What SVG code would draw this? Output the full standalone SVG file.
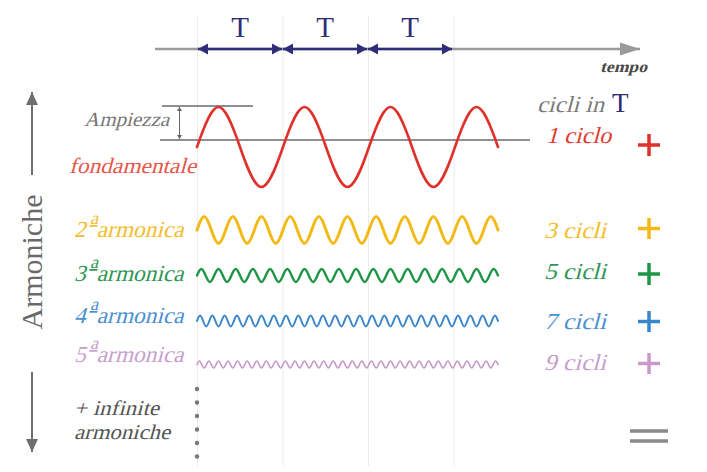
<svg xmlns="http://www.w3.org/2000/svg" width="707" height="472" viewBox="0 0 707 472">
<style>
.it{font-family:"Liberation Serif","Times New Roman",serif;font-style:normal}
.rm{font-family:"Liberation Serif","Times New Roman",serif}
.grid{stroke:#ececec;stroke-width:1}
.wave{fill:none;stroke-linecap:round;stroke-linejoin:round}
.plus{stroke-width:3.5;fill:none}
.sup{font-size:18px;text-decoration:underline}
</style>
<defs>
<marker id="hT" markerUnits="userSpaceOnUse" markerWidth="10" markerHeight="12" refX="10" refY="6" orient="auto-start-reverse"><path d="M0,0.5 L10,6 L0,11.5 z" fill="#2f2c78"/></marker>
<marker id="hAx" markerUnits="userSpaceOnUse" markerWidth="20" markerHeight="14" refX="20" refY="7" orient="auto"><path d="M0,0.5 L20,7 L0,13.5 z" fill="#9a9a9a"/></marker>
<marker id="hG" markerUnits="userSpaceOnUse" markerWidth="13" markerHeight="13" refX="13" refY="6.5" orient="auto"><path d="M0,0.5 L13,6.5 L0,12.5 z" fill="#6e6e6e"/></marker>
<marker id="hS" markerUnits="userSpaceOnUse" markerWidth="4" markerHeight="5" refX="4" refY="2.5" orient="auto-start-reverse"><path d="M0,0 L4,2.5 L0,5 z" fill="#666"/></marker>
</defs>
<rect width="707" height="472" fill="#fff"/>

<g id="grid">
<line class="grid" x1="197.5" y1="16" x2="197.5" y2="466"/>
<line class="grid" x1="283" y1="16" x2="283" y2="466"/>
<line class="grid" x1="368.5" y1="16" x2="368.5" y2="466"/>
<line class="grid" x1="454" y1="16" x2="454" y2="466"/>
</g>

<g id="connectors">
<line x1="155" y1="49" x2="640" y2="49" stroke="#9a9a9a" stroke-width="2.5" marker-end="url(#hAx)"/>
<line x1="198" y1="49" x2="282" y2="49" stroke="#2f2c78" stroke-width="2.5" marker-start="url(#hT)" marker-end="url(#hT)"/>
<line x1="283" y1="49" x2="367" y2="49" stroke="#2f2c78" stroke-width="2.5" marker-start="url(#hT)" marker-end="url(#hT)"/>
<line x1="368" y1="49" x2="452" y2="49" stroke="#2f2c78" stroke-width="2.5" marker-start="url(#hT)" marker-end="url(#hT)"/>
<line x1="32" y1="175" x2="32" y2="92" stroke="#6e6e6e" stroke-width="2" marker-end="url(#hG)"/>
<line x1="32" y1="372" x2="32" y2="452" stroke="#6e6e6e" stroke-width="2" marker-end="url(#hG)"/>
<line x1="162" y1="106" x2="253" y2="106" stroke="#6a6a6a" stroke-width="1.5"/>
<line x1="160" y1="140" x2="530" y2="140" stroke="#6a6a6a" stroke-width="1.5"/>
<line x1="179.5" y1="107" x2="179.5" y2="139" stroke="#6a6a6a" stroke-width="1" marker-start="url(#hS)" marker-end="url(#hS)"/>
</g>

<g id="time-labels">
<text class="rm" x="240" y="37" font-size="29" fill="#2f2c78" text-anchor="middle">T</text>
<text class="rm" x="325" y="37" font-size="29" fill="#2f2c78" text-anchor="middle">T</text>
<text class="rm" x="410" y="37" font-size="29" fill="#2f2c78" text-anchor="middle">T</text>
<text class="it" transform="translate(600 72) skewX(-15)" font-size="16" font-weight="bold" fill="#4a4a4a" textLength="47" lengthAdjust="spacingAndGlyphs">tempo</text>
</g>

<g id="axis-label">
<text class="rm" transform="translate(42,262) rotate(-90)" font-size="30" fill="#6a6a6a" text-anchor="middle">Armoniche</text>
</g>

<g id="fundamental">
<path class="wave" stroke="#e0302a" stroke-width="2.6" d="M197 147 c18.25 -53.33 24.75 -53.33 43 0 s24.75 53.33 43 0 24.75 -53.33 43 0 24.75 53.33 43 0 24.75 -53.33 43 0 24.75 53.33 43 0 24.75 -53.33 43 0"/>
<text class="it" transform="translate(84 126) skewX(-15)" font-size="20" fill="#777" textLength="85" lengthAdjust="spacingAndGlyphs">Ampiezza</text>
<text class="it" transform="translate(69 173) skewX(-15)" font-size="22" fill="#e8564a" textLength="127" lengthAdjust="spacingAndGlyphs">fondamentale</text>
<text class="it" transform="translate(537 112) skewX(-15)" font-size="23" fill="#7a7a7a" textLength="67" lengthAdjust="spacingAndGlyphs">cicli in</text>
<text class="rm" x="612" y="112" font-size="27" fill="#2f2c78">T</text>
<text class="it" transform="translate(546 143) skewX(-15)" font-size="23" fill="#e0392e" textLength="65" lengthAdjust="spacingAndGlyphs">1 ciclo</text>
<path class="plus" stroke="#e0302a" d="M638 145 h22 M649 134 v22"/>
</g>

<g id="harmonic-2">
<path class="wave" stroke="#f5b914" stroke-width="3" d="M197 230 c6.08 -18 8.25 -18 14.333 0 s
8.25 18 14.333 0 8.25 -18 14.333 0  8.25 18 14.333 0 8.25 -18 14.333 0  8.25 18 14.333 0 8.25 -18 14.333 0  8.25 18 14.333 0 8.25 -18 14.333 0  8.25 18 14.333 0 8.25 -18 14.333 0
8.25 18 14.333 0 8.25 -18 14.333 0  8.25 18 14.333 0 8.25 -18 14.333 0  8.25 18 14.333 0 8.25 -18 14.333 0  8.25 18 14.333 0 8.25 -18 14.333 0  8.25 18 14.333 0 8.25 -18 14.333 0"/>
<text class="it" transform="translate(74 237) skewX(-15)" font-size="23" fill="#f4bd2c">2<tspan class="sup" dx="1" dy="-13">a</tspan><tspan dx="2" dy="13" textLength="87" lengthAdjust="spacingAndGlyphs">armonica</tspan></text>
<text class="it" transform="translate(544 238) skewX(-15)" font-size="23" fill="#f4bd2c" textLength="62" lengthAdjust="spacingAndGlyphs">3 cicli</text>
<path class="plus" stroke="#f5b914" d="M638 228.5 h22 M649 218 v21"/>
</g>

<g id="harmonic-3">
<path class="wave" stroke="#1f9546" stroke-width="2.4" d="M197 275.5 c3.65 -8.67 4.95 -8.67 8.6 0 s
4.95 8.67 8.6 0 4.95 -8.67 8.6 0  4.95 8.67 8.6 0 4.95 -8.67 8.6 0  4.95 8.67 8.6 0 4.95 -8.67 8.6 0  4.95 8.67 8.6 0 4.95 -8.67 8.6 0  4.95 8.67 8.6 0 4.95 -8.67 8.6 0
4.95 8.67 8.6 0 4.95 -8.67 8.6 0  4.95 8.67 8.6 0 4.95 -8.67 8.6 0  4.95 8.67 8.6 0 4.95 -8.67 8.6 0  4.95 8.67 8.6 0 4.95 -8.67 8.6 0  4.95 8.67 8.6 0 4.95 -8.67 8.6 0
4.95 8.67 8.6 0 4.95 -8.67 8.6 0  4.95 8.67 8.6 0 4.95 -8.67 8.6 0  4.95 8.67 8.6 0 4.95 -8.67 8.6 0  4.95 8.67 8.6 0 4.95 -8.67 8.6 0
4.95 8.67 8.6 0 4.95 -8.67 8.6 0  4.95 8.67 8.6 0 4.95 -8.67 8.6 0  4.95 8.67 8.6 0 4.95 -8.67 8.6 0"/>
<text class="it" transform="translate(74 281) skewX(-15)" font-size="23" fill="#2f9553">3<tspan class="sup" dx="1" dy="-13">a</tspan><tspan dx="2" dy="13" textLength="87" lengthAdjust="spacingAndGlyphs">armonica</tspan></text>
<text class="it" transform="translate(544 279) skewX(-15)" font-size="23" fill="#2f9553" textLength="62" lengthAdjust="spacingAndGlyphs">5 cicli</text>
<path class="plus" stroke="#1f9546" d="M638 274 h22 M649 263 v22"/>
</g>

<g id="harmonic-4">
<path class="wave" stroke="#3a86cc" stroke-width="2" d="M197 321 c2.607 -7.33 3.536 -7.33 6.143 0 s
3.536 7.33 6.143 0 3.536 -7.33 6.143 0  3.536 7.33 6.143 0 3.536 -7.33 6.143 0  3.536 7.33 6.143 0 3.536 -7.33 6.143 0  3.536 7.33 6.143 0 3.536 -7.33 6.143 0  3.536 7.33 6.143 0 3.536 -7.33 6.143 0
3.536 7.33 6.143 0 3.536 -7.33 6.143 0  3.536 7.33 6.143 0 3.536 -7.33 6.143 0  3.536 7.33 6.143 0 3.536 -7.33 6.143 0  3.536 7.33 6.143 0 3.536 -7.33 6.143 0  3.536 7.33 6.143 0 3.536 -7.33 6.143 0
3.536 7.33 6.143 0 3.536 -7.33 6.143 0  3.536 7.33 6.143 0 3.536 -7.33 6.143 0  3.536 7.33 6.143 0 3.536 -7.33 6.143 0  3.536 7.33 6.143 0 3.536 -7.33 6.143 0  3.536 7.33 6.143 0 3.536 -7.33 6.143 0
3.536 7.33 6.143 0 3.536 -7.33 6.143 0  3.536 7.33 6.143 0 3.536 -7.33 6.143 0  3.536 7.33 6.143 0 3.536 -7.33 6.143 0  3.536 7.33 6.143 0 3.536 -7.33 6.143 0  3.536 7.33 6.143 0 3.536 -7.33 6.143 0
3.536 7.33 6.143 0 3.536 -7.33 6.143 0  3.536 7.33 6.143 0 3.536 -7.33 6.143 0  3.536 7.33 6.143 0 3.536 -7.33 6.143 0  3.536 7.33 6.143 0 3.536 -7.33 6.143 0"/>
<text class="it" transform="translate(74 323) skewX(-15)" font-size="23" fill="#4a8fd2">4<tspan class="sup" dx="1" dy="-13">a</tspan><tspan dx="2" dy="13" textLength="87" lengthAdjust="spacingAndGlyphs">armonica</tspan></text>
<text class="it" transform="translate(544 329) skewX(-15)" font-size="23" fill="#4a8fd2" textLength="62" lengthAdjust="spacingAndGlyphs">7 cicli</text>
<path class="plus" stroke="#3a86cc" d="M638 321.5 h22 M649 311 v21"/>
</g>

<g id="harmonic-5">
<path class="wave" stroke="#c99ac9" stroke-width="1.7" d="M197 364.5 c2.028 -4.67 2.75 -4.67 4.778 0 s
2.75 4.67 4.778 0 2.75 -4.67 4.778 0  2.75 4.67 4.778 0 2.75 -4.67 4.778 0  2.75 4.67 4.778 0 2.75 -4.67 4.778 0  2.75 4.67 4.778 0 2.75 -4.67 4.778 0  2.75 4.67 4.778 0 2.75 -4.67 4.778 0
2.75 4.67 4.778 0 2.75 -4.67 4.778 0  2.75 4.67 4.778 0 2.75 -4.67 4.778 0  2.75 4.67 4.778 0 2.75 -4.67 4.778 0  2.75 4.67 4.778 0 2.75 -4.67 4.778 0  2.75 4.67 4.778 0 2.75 -4.67 4.778 0
2.75 4.67 4.778 0 2.75 -4.67 4.778 0  2.75 4.67 4.778 0 2.75 -4.67 4.778 0  2.75 4.67 4.778 0 2.75 -4.67 4.778 0  2.75 4.67 4.778 0 2.75 -4.67 4.778 0  2.75 4.67 4.778 0 2.75 -4.67 4.778 0
2.75 4.67 4.778 0 2.75 -4.67 4.778 0  2.75 4.67 4.778 0 2.75 -4.67 4.778 0  2.75 4.67 4.778 0 2.75 -4.67 4.778 0  2.75 4.67 4.778 0 2.75 -4.67 4.778 0  2.75 4.67 4.778 0 2.75 -4.67 4.778 0
2.75 4.67 4.778 0 2.75 -4.67 4.778 0  2.75 4.67 4.778 0 2.75 -4.67 4.778 0  2.75 4.67 4.778 0 2.75 -4.67 4.778 0  2.75 4.67 4.778 0 2.75 -4.67 4.778 0  2.75 4.67 4.778 0 2.75 -4.67 4.778 0
2.75 4.67 4.778 0 2.75 -4.67 4.778 0  2.75 4.67 4.778 0 2.75 -4.67 4.778 0  2.75 4.67 4.778 0 2.75 -4.67 4.778 0  2.75 4.67 4.778 0 2.75 -4.67 4.778 0  2.75 4.67 4.778 0 2.75 -4.67 4.778 0
2.75 4.67 4.778 0 2.75 -4.67 4.778 0"/>
<text class="it" transform="translate(74 362) skewX(-15)" font-size="23" fill="#c79fcc">5<tspan class="sup" dx="1" dy="-13">a</tspan><tspan dx="2" dy="13" textLength="87" lengthAdjust="spacingAndGlyphs">armonica</tspan></text>
<text class="it" transform="translate(544 370) skewX(-15)" font-size="23" fill="#c79fcc" textLength="62" lengthAdjust="spacingAndGlyphs">9 cicli</text>
<path class="plus" stroke="#c99ac9" d="M638 363.5 h22 M649 353 v21"/>
</g>

<g id="infinite">
<g fill="#777">
<circle cx="197" cy="389" r="2.2"/>
<circle cx="197" cy="402.5" r="2.2"/>
<circle cx="197" cy="416" r="2.2"/>
<circle cx="197" cy="429.5" r="2.2"/>
<circle cx="197" cy="443" r="2.2"/>
<circle cx="197" cy="456.5" r="2.2"/>
</g>
<text class="it" transform="translate(74 415) skewX(-15)" font-size="21" fill="#555" textLength="85" lengthAdjust="spacingAndGlyphs">+ infinite</text>
<text class="it" transform="translate(74 439) skewX(-15)" font-size="21" fill="#555" textLength="96" lengthAdjust="spacingAndGlyphs">armoniche</text>
<path d="M630 431 h38 M630 441 h38" stroke="#8a8a8a" stroke-width="3.5"/>
</g>
</svg>
